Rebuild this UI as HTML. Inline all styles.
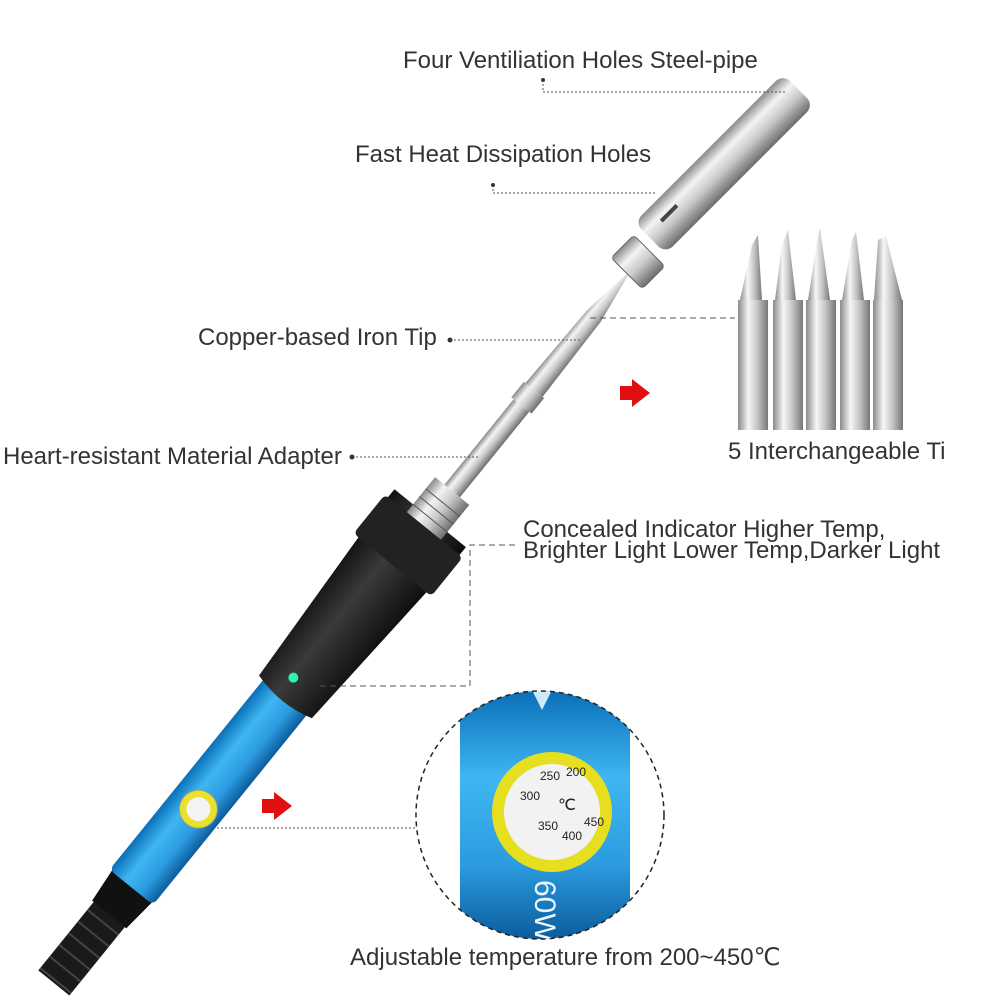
<!DOCTYPE html>
<html><head><meta charset="utf-8"><style>
html,body{margin:0;padding:0;background:#fff;overflow:hidden;width:1001px;height:1001px;}
body{position:relative;font-family:"Liberation Sans",sans-serif;}
.t{position:absolute;font-size:24px;color:#333;white-space:nowrap;line-height:1;}
svg{overflow:hidden;display:block}
</style></head><body>
<svg width="1001" height="1001" viewBox="0 0 1001 1001" style="position:absolute;left:0;top:0">
<defs>
<linearGradient id="steel" x1="0" y1="0" x2="0" y2="1">
<stop offset="0" stop-color="#8a8a8a"/><stop offset=".3" stop-color="#f4f4f4"/><stop offset=".6" stop-color="#c9c9c9"/><stop offset="1" stop-color="#6d6d6d"/></linearGradient>
<linearGradient id="steelv" x1="0" y1="0" x2="1" y2="0">
<stop offset="0" stop-color="#8a8a8a"/><stop offset=".35" stop-color="#f6f6f6"/><stop offset=".65" stop-color="#c4c4c4"/><stop offset="1" stop-color="#777"/></linearGradient>
<linearGradient id="blue" x1="0" y1="0" x2="0" y2="1">
<stop offset="0" stop-color="#0a6fb8"/><stop offset=".35" stop-color="#3fb6f2"/><stop offset=".7" stop-color="#2c9be0"/><stop offset="1" stop-color="#0b5c9c"/></linearGradient>
<linearGradient id="blk" x1="0" y1="0" x2="0" y2="1">
<stop offset="0" stop-color="#111"/><stop offset=".4" stop-color="#3a3a3a"/><stop offset="1" stop-color="#0c0c0c"/></linearGradient>
<clipPath id="cc"><circle cx="540" cy="815" r="124"/></clipPath>
</defs>
<g transform="translate(40,1000) rotate(-51)">
<rect x="22" y="-20" width="118" height="40" fill="#1a1a1a"/>
<g stroke="#444" stroke-width="2">
<line x1="25" y1="-20" x2="25" y2="20"/><line x1="40" y1="-20" x2="40" y2="20"/><line x1="55" y1="-20" x2="55" y2="20"/><line x1="70" y1="-20" x2="70" y2="20"/><line x1="85" y1="-20" x2="85" y2="20"/><line x1="100" y1="-20" x2="100" y2="20"/></g>
<path d="M110,-22 L150,-26 L150,26 L110,22Z" fill="#111"/>
<rect x="145" y="-28" width="260" height="56" rx="6" fill="url(#blue)"/>
<circle cx="248" cy="3" r="19" fill="#e8e22a" stroke="#999"/>
<circle cx="248" cy="3" r="12" fill="#f3f3f3"/>
<path d="M390,-34 L600,-46 L620,-46 L620,46 L600,46 L390,34 Q380,0 390,-34Z" fill="url(#blk)"/>
<circle cx="410" cy="-6" r="5" fill="#2ef0b0"/>
<rect x="560" y="-50" width="50" height="100" rx="5" fill="#222"/>
<rect x="610" y="-22" width="45" height="44" fill="url(#steel)"/>
<g stroke="#555"><line x1="620" y1="-22" x2="620" y2="22"/><line x1="630" y1="-22" x2="630" y2="22"/><line x1="640" y1="-22" x2="640" y2="22"/></g>
<rect x="655" y="-10" width="110" height="20" fill="url(#steel)"/>
<rect x="765" y="-13" width="20" height="26" fill="url(#steel)"/>
<path d="M785,-11 L880,-9 L940,0 L880,9 L785,11Z" fill="url(#steel)"/>
</g>
<g transform="translate(650,238) rotate(-45)">
<rect x="0" y="-22" width="210" height="44" rx="10" fill="url(#steel)"/>
<rect x="20" y="-6" width="22" height="4" fill="#444"/>
</g>
<g transform="translate(638,262) rotate(-45)"><rect x="-16" y="-22" width="32" height="44" rx="4" fill="url(#steel)" stroke="#666"/></g>
<g>
<path d="M740,300 L752,245 L758,235 L762,300Z" fill="url(#steelv)"/><rect x="738" y="300" width="30" height="130" fill="url(#steelv)"/>
<path d="M775,300 L782,245 L788,230 L796,300Z" fill="url(#steelv)"/><rect x="773" y="300" width="30" height="130" fill="url(#steelv)"/>
<path d="M808,300 L818,235 L820,228 L830,300Z" fill="url(#steelv)"/><rect x="806" y="300" width="30" height="130" fill="url(#steelv)"/>
<path d="M842,300 L852,240 L856,232 L864,300Z" fill="url(#steelv)"/><rect x="840" y="300" width="30" height="130" fill="url(#steelv)"/>
<path d="M874,300 L878,240 L886,236 L902,300Z" fill="url(#steelv)"/><rect x="873" y="300" width="30" height="130" fill="url(#steelv)"/>
</g>
<path d="M620,386 L632,386 L632,379 L650,393 L632,407 L632,400 L620,400Z" fill="#e01010"/>
<path d="M262,799 L274,799 L274,792 L292,806 L274,820 L274,813 L262,813Z" fill="#e01010"/>
<g stroke="#555" stroke-width="1" stroke-dasharray="2,2" fill="none">
<polyline points="543,80 543,92 785,92"/>
<polyline points="493,185 493,193 655,193"/>
<line x1="450" y1="340" x2="580" y2="340"/>
<line x1="590" y1="318" x2="735" y2="318" stroke-dasharray="6,4"/>
<line x1="352" y1="457" x2="480" y2="457"/>
<polyline points="515,545 470,545 470,686 318,686" stroke-dasharray="6,4"/>
<line x1="205" y1="828" x2="418" y2="828"/>
</g>
<circle cx="450" cy="340" r="2.5" fill="#333"/><circle cx="352" cy="457" r="2.5" fill="#333"/><circle cx="543" cy="80" r="2" fill="#333"/><circle cx="493" cy="185" r="2" fill="#333"/>
<g clip-path="url(#cc)">
<rect x="416" y="691" width="248" height="248" fill="#fff"/>
<rect x="460" y="691" width="170" height="248" fill="url(#blue)"/>
<path d="M532,690 L552,690 L542,710Z" fill="#cfe9f7"/>
<circle cx="552" cy="812" r="60" fill="#e6df1f"/>
<circle cx="552" cy="812" r="48" fill="#f2f2f2"/>
<text x="520" y="800" font-size="12" font-family="Liberation Sans" fill="#222">300</text>
<text x="540" y="780" font-size="12" font-family="Liberation Sans" fill="#222">250</text>
<text x="566" y="776" font-size="12" font-family="Liberation Sans" fill="#222">200</text>
<text x="558" y="810" font-size="16" font-family="Liberation Sans" fill="#222">℃</text>
<text x="538" y="830" font-size="12" font-family="Liberation Sans" fill="#222">350</text>
<text x="562" y="840" font-size="12" font-family="Liberation Sans" fill="#222">400</text>
<text x="584" y="826" font-size="12" font-family="Liberation Sans" fill="#222">450</text>
<text x="530" y="905" font-size="30" font-family="Liberation Sans" fill="#e8f6ff" transform="rotate(90 545 895)">60W</text>
</g>
<circle cx="540" cy="815" r="124" fill="none" stroke="#222" stroke-width="1.5" stroke-dasharray="5,4"/>
</svg>
<div class="t" style="left:403px;top:49px">Four Ventiliation Holes Steel-pipe</div>
<div class="t" style="left:355px;top:143px">Fast Heat Dissipation Holes</div>
<div class="t" style="left:198px;top:326px">Copper-based Iron Tip</div>
<div class="t" style="left:3px;top:445px">Heart-resistant Material Adapter</div>
<div class="t" style="left:728px;top:440px">5 Interchangeable Ti</div>
<div class="t" style="left:523px;top:519px;line-height:21px">Concealed Indicator Higher Temp,<br>Brighter Light Lower Temp,Darker Light</div>
<div class="t" style="left:350px;top:946px">Adjustable temperature from 200~450℃</div>
</body></html>
